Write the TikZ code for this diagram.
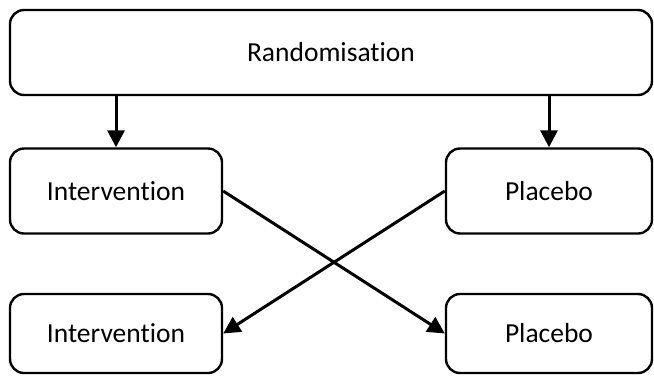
\documentclass[tikz,border=0pt]{standalone}
\usepackage{fontspec}
\setmainfont{Carlito}[Ligatures=NoCommon]
\usetikzlibrary{arrows.meta,math}

\begin{document}
\begin{tikzpicture}[x=1pt,y=-1pt,
    box/.style={draw=black, line width=2.4pt, rounded corners=14pt, fill=white,
      minimum height=85pt, font=\fontsize{27.5}{32}\selectfont},
    flow/.style={line width=3pt, -{Triangle[length=17pt,width=17pt]}}]
      \tikzmath{\l = 116; \r = 549; \bw = 212;}
      \useasboundingbox (0,0) rectangle (654,376);
      \node[box, minimum width=642pt] (rand) at (331,52.5) {Randomisation};
      \node[box, minimum width=\bw pt] (int1) at (\l,191) {Intervention};
      \node[box, minimum width=206pt] (plac1) at (\r,191) {Placebo};
      \node[box, minimum width=\bw pt, minimum height=79pt] (int2) at (\l,333.5) {Intervention};
      \node[box, minimum width=206pt, minimum height=79pt] (plac2) at (\r,333.5) {Placebo};
      \draw[flow] (rand.south -| int1.north) -- (int1.north);
      \draw[flow] (rand.south -| plac1.north) -- (plac1.north);
      \draw[flow] (int1.east) -- (plac2.west);
      \draw[flow] (plac1.west) -- (int2.east);
    \end{tikzpicture}
\end{document}
